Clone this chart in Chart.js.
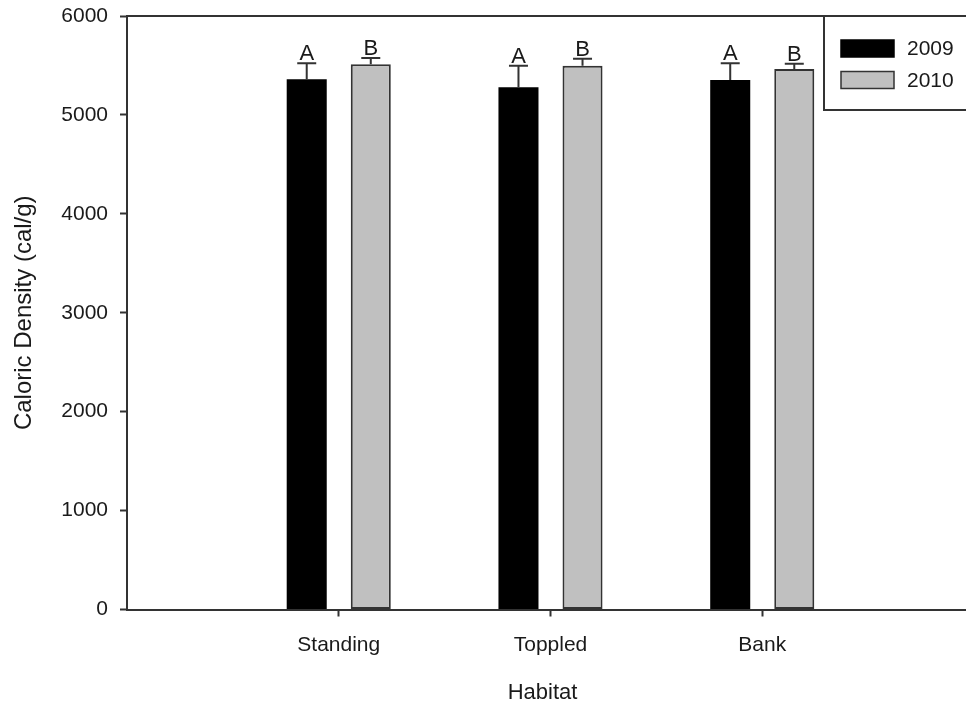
<!DOCTYPE html>
<html>
<head>
<meta charset="utf-8">
<script src="https://cdn.jsdelivr.net/npm/chart.js@4/dist/chart.umd.min.js"></script>
<style>
  html, body { margin: 0; padding: 0; background: #fff; overflow: hidden; width: 966px; height: 713px; }
  #wrap { position: relative; width: 980px; height: 713px; }
</style>
</head>
<body>
<div id="wrap"><canvas id="c" width="980" height="713"></canvas></div>
<script>
// Habitat categories and the two sampling years
const habitats = ['Standing', 'Toppled', 'Bank'];
const years = ['2009', '2010'];

// Mean caloric density (cal/g) and upper error (SE) per habitat
const density2009 = [5360, 5280, 5353];
const density2010 = [5512, 5497, 5464];
const error2009 = [162, 218, 169];
const error2010 = [63, 71, 54];

// Significance letters shown above each bar
const letters2009 = ['A', 'A', 'A'];
const letters2010 = ['B', 'B', 'B'];

// Y axis ticks
const yTicks = [0, 1000, 2000, 3000, 4000, 5000, 6000];

const xTitle = 'Habitat';
const yTitle = 'Caloric Density (cal/g)';

const FONT = 'Arial, "Liberation Sans", sans-serif';
const INK = '#1a1a1a';
const LINE = '#333';

// Empty slots at both ends keep the habitats at 1, 2, 3 on a 0..4 axis
const labels = ['', ...habitats, ''];
const pad = arr => [null, ...arr, null];

const errorBars = {
  id: 'errorBars',
  afterDatasetsDraw(chart) {
    const { ctx } = chart;
    const yScale = chart.scales.y;
    chart.data.datasets.forEach((ds, di) => {
      const meta = chart.getDatasetMeta(di);
      meta.data.forEach((bar, i) => {
        const v = ds.data[i];
        if (v == null) return;
        const e = ds.errors[i];
        const yTop = yScale.getPixelForValue(v + e);
        ctx.save();
        ctx.strokeStyle = LINE;
        ctx.lineWidth = 2;
        ctx.beginPath();
        ctx.moveTo(bar.x, bar.y);
        ctx.lineTo(bar.x, yTop);
        ctx.moveTo(bar.x - 9.5, yTop);
        ctx.lineTo(bar.x + 9.5, yTop);
        ctx.stroke();
        ctx.fillStyle = INK;
        ctx.font = '22px ' + FONT;
        ctx.textAlign = 'center';
        ctx.textBaseline = 'alphabetic';
        ctx.fillText(ds.letters[i], bar.x, yTop - 3);
        ctx.restore();
      });
    });
  }
};

const frameAndLegend = {
  id: 'frameAndLegend',
  afterDraw(chart) {
    const { ctx, chartArea: a } = chart;
    ctx.save();
    ctx.strokeStyle = LINE;
    ctx.lineWidth = 2;
    // top and right edges of the plot frame
    ctx.beginPath();
    ctx.moveTo(a.left, a.top);
    ctx.lineTo(a.right, a.top);
    ctx.lineTo(a.right, a.bottom);
    ctx.stroke();

    // x axis title, set slightly left of the plot centre
    ctx.fillStyle = INK;
    ctx.font = '22px ' + FONT;
    ctx.textAlign = 'center';
    ctx.textBaseline = 'middle';
    ctx.fillText(xTitle, (a.left + a.right) / 2 - 8, a.bottom + 83);

    // legend box anchored to the top-right corner
    const boxL = a.right - 150, boxB = a.top + 94;
    ctx.beginPath();
    ctx.moveTo(boxL, a.top);
    ctx.lineTo(boxL, boxB);
    ctx.lineTo(a.right, boxB);
    ctx.stroke();

    const rows = [a.top + 32.5, a.top + 64];
    chart.data.datasets.forEach((ds, di) => {
      const cy = rows[di];
      ctx.fillStyle = ds.backgroundColor;
      ctx.fillRect(boxL + 17, cy - 8.5, 53, 17);
      ctx.lineWidth = 1.5;
      ctx.strokeStyle = ds.borderColor;
      ctx.strokeRect(boxL + 17, cy - 8.5, 53, 17);
      ctx.fillStyle = INK;
      ctx.font = '21px ' + FONT;
      ctx.textAlign = 'left';
      ctx.textBaseline = 'middle';
      ctx.fillText(ds.label, boxL + 83, cy + 1);
    });
    ctx.restore();
  }
};

new Chart(document.getElementById('c'), {
  type: 'bar',
  data: {
    labels,
    datasets: [
      {
        label: years[0],
        data: pad(density2009),
        errors: pad(error2009),
        letters: pad(letters2009),
        backgroundColor: '#000000',
        borderColor: '#000000',
        borderWidth: 0
      },
      {
        label: years[1],
        data: pad(density2010),
        errors: pad(error2010),
        letters: pad(letters2010),
        backgroundColor: '#c0c0c0',
        borderColor: LINE,
        borderWidth: 2,
        borderSkipped: false
      }
    ]
  },
  options: {
    responsive: false,
    animation: false,
    devicePixelRatio: 1,
    categoryPercentage: 0.605,
    barPercentage: 0.625,
    layout: { padding: { top: 16, right: 6, left: 0, bottom: 0 } },
    plugins: { legend: { display: false }, tooltip: { enabled: false } },
    scales: {
      x: {
        type: 'category',
        offset: false,
        grid: {
          display: true,
          drawOnChartArea: false,
          offset: false,
          tickLength: 7,
          tickWidth: 2,
          tickColor: c => (c.tick && c.tick.label) ? LINE : 'rgba(0,0,0,0)'
        },
        border: { color: LINE, width: 2 },
        ticks: {
          autoSkip: false,
          maxRotation: 0,
          padding: 16,
          color: INK,
          font: { family: FONT, size: 21 }
        },
        afterFit: s => { s.height = 103.5; s.paddingLeft = 0; s.paddingRight = 0; }
      },
      y: {
        min: 0,
        max: 6000,
        afterBuildTicks: s => { s.ticks = yTicks.map(v => ({ value: v })); },
        grid: {
          display: true,
          drawOnChartArea: false,
          tickLength: 7,
          tickWidth: 2,
          tickColor: LINE
        },
        border: { color: LINE, width: 2 },
        ticks: {
          padding: 12,
          color: INK,
          font: { family: FONT, size: 21 },
          callback: v => String(v)
        },
        title: {
          display: true,
          text: yTitle,
          color: INK,
          font: { family: FONT, size: 24 },
          padding: { top: 10, bottom: 0 }
        },
        afterFit: s => { s.width = 127; s.paddingTop = 0; s.paddingBottom = 0; }
      }
    }
  },
  plugins: [errorBars, frameAndLegend]
});
</script>
</body>
</html>
